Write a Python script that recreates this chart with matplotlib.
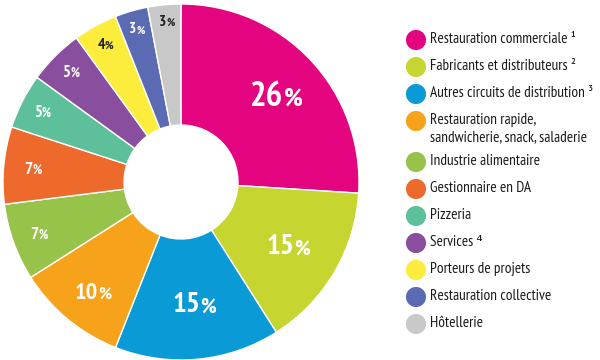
import matplotlib.pyplot as plt
from matplotlib.transforms import offset_copy
import numpy as np

categories = ["Restauration commerciale \u00b9", "Fabricants et distributeurs \u00b2",
              "Autres circuits de distribution \u00b3",
              "Restauration rapide,\nsandwicherie, snack, saladerie",
              "Industrie alimentaire", "Gestionnaire en DA", "Pizzeria",
              "Services \u2074", "Porteurs de projets", "Restauration collective", "H\u00f4tellerie"]
values = [26, 15, 15, 10, 7, 7, 5, 5, 4, 3, 3]
colors = ["#E5047F", "#C6D52F", "#0A9AD6", "#F7A21B", "#97C34B", "#EE6A2C",
          "#5DC09B", "#8A4E9F", "#FCEC3B", "#5A6AB3", "#C8C8C9"]

# label styling / placement (per slice)
label_colors = ["white"] * 8 + ["#222222", "white", "#222222"]
label_sizes = [25, 21, 21, 17.5, 12.5, 12.5, 12, 12, 11.5, 11, 11]
label_r = [0.72, 0.69, 0.68, 0.79, 0.85, 0.84, 0.88, 0.88, 0.89, 0.9, 0.91]

fam = ["PT Sans Narrow", "DejaVu Sans"]

fig = plt.figure(figsize=(6, 3.6), dpi=100)
ax = fig.add_axes([3 / 600, 0, 356 / 600, 356 / 360])
wedges, _ = ax.pie(values, colors=colors, startangle=90, counterclock=False,
                   wedgeprops=dict(width=0.68, edgecolor="white", linewidth=1))
ax.set_xlim(-1, 1)
ax.set_ylim(-1, 1)
ax.set_aspect("equal")

for w, v, c, s, r in zip(wedges, values, label_colors, label_sizes, label_r):
    ang = np.deg2rad((w.theta1 + w.theta2) / 2)
    x, y = r * np.cos(ang), r * np.sin(ang)
    wd = len(str(v)) * 0.5 * s
    wp = 0.62 * 0.75 * s
    tr = offset_copy(ax.transData, fig=fig, x=(wd - wp) / 2, y=-0.34 * s, units="points")
    ax.text(x, y, str(v), ha="right", va="baseline", color=c, fontsize=s,
            fontweight="bold", family=fam, transform=tr)
    ax.text(x, y, "%", ha="left", va="baseline", color=c,
            fontsize=s * 0.75, fontweight="bold", family=fam, transform=tr)

lax = fig.add_axes([0, 0, 1, 1])
lax.set_xlim(0, 600)
lax.set_ylim(360, 0)
lax.axis("off")
rows = [40, 67, 94, 121, 162, 189, 216, 243, 270, 297, 324]
for yy, col, lab in zip(rows, colors, categories):
    lax.scatter([416], [yy], s=210, color=col, edgecolors="none")
    lax.text(430, yy - 8, lab, ha="left", va="top",
             fontsize=11, color="#1a1a1a", family=fam, linespacing=1.3)

fig.savefig("out.png", dpi=100)
